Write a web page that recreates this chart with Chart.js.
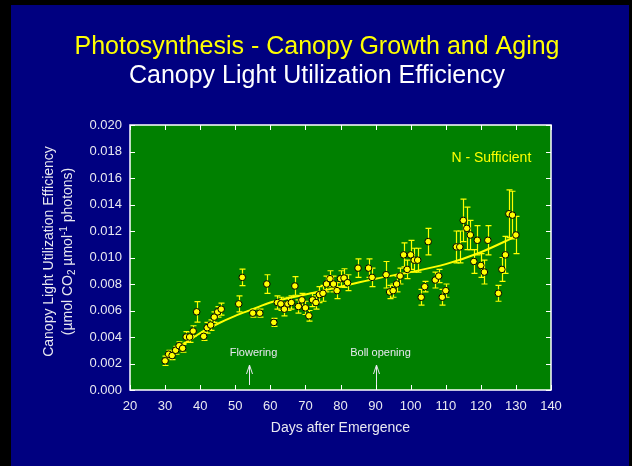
<!DOCTYPE html>
<html>
<head>
<meta charset="utf-8">
<script src="https://cdn.jsdelivr.net/npm/chart.js"></script>
<style>
  body { margin: 0; background: #000000; }
  canvas { display: block; }
</style>
</head>
<body>
<canvas id="myChart" width="632" height="466"></canvas>
<script>
// measured points (days after emergence) + error bars
const days = [30, 31, 32, 33, 34, 35, 36, 37, 38, 39, 41, 42, 43, 44, 45, 46, 51, 52, 55, 57,
  59, 61, 62, 63, 64, 65, 66, 67, 68, 69, 70, 71, 72, 73, 74, 75, 76, 77, 78, 79,
  80, 81, 82, 85, 88, 89, 93, 94, 95, 96, 97, 98, 99, 100, 101, 102, 103, 104, 105, 107,
  108, 109, 110, 113, 114, 115, 116, 117, 118, 119, 120, 121, 122, 125, 126, 127, 128, 129, 130];
const efficiency = [0.0022, 0.0027, 0.0026, 0.0030, 0.00334, 0.00315, 0.0040, 0.0040, 0.00445, 0.0059,
  0.00405, 0.0047, 0.0049, 0.0055, 0.0059, 0.0061, 0.0065, 0.0085, 0.0058, 0.0058,
  0.0080, 0.0051, 0.0066, 0.0065, 0.0061, 0.0065, 0.0066, 0.00785, 0.0063, 0.0068,
  0.0062, 0.0056, 0.0068, 0.0066, 0.0072, 0.0073, 0.0080, 0.0084, 0.0080, 0.0075,
  0.0084, 0.00845, 0.0081, 0.0092, 0.0092, 0.0085, 0.0087, 0.0074, 0.0075, 0.0080,
  0.0086, 0.0102, 0.0091, 0.0102, 0.0098, 0.0098, 0.0070, 0.0078, 0.0112, 0.0083,
  0.0086, 0.0070, 0.0075, 0.0108, 0.0108, 0.0128, 0.0122, 0.0117, 0.0097, 0.0113,
  0.0094, 0.0089, 0.0113, 0.0073, 0.0091, 0.0102, 0.0133, 0.0132, 0.0117];
const errors = [0.00035, 0.0003, 0.0003, 0.0003, 0.0003, 0.0003, 0.0004, 0.0004, 0.0004, 0.00077,
  0.0003, 0.0004, 0.0004, 0.0004, 0.0004, 0.00045, 0.0006, 0.00063, 0.0003, 0.0003,
  0.0007, 0.0003, 0.0005, 0.0005, 0.0005, 0.0005, 0.0005, 0.0007, 0.0005, 0.0005,
  0.0005, 0.0004, 0.0005, 0.0005, 0.0006, 0.0006, 0.0006, 0.0006, 0.0006, 0.0006,
  0.0006, 0.0007, 0.0006, 0.0007, 0.0007, 0.0007, 0.001, 0.0005, 0.0005, 0.0006,
  0.0006, 0.0009, 0.0007, 0.0011, 0.0009, 0.0009, 0.0006, 0.0004, 0.001, 0.0006,
  0.0005, 0.0006, 0.0005, 0.0012, 0.0012, 0.0016, 0.0016, 0.0011, 0.0009, 0.0011,
  0.0009, 0.0009, 0.0011, 0.0006, 0.0009, 0.0014, 0.0018, 0.0018, 0.0014];

// fitted curve
const fitDays = [30, 35, 40, 45, 50, 55, 60, 70, 80, 90, 100, 110, 120, 130];
const fitValues = [0.0025, 0.0034, 0.0043, 0.0050, 0.0056, 0.0061, 0.0066, 0.0072, 0.0078, 0.0084, 0.0089, 0.0095, 0.0104, 0.0116];

const markerDays = [54, 90];
const markerLabels = ["Flowering", "Boll opening"];

const FONT = "'Liberation Sans', Arial, sans-serif";
const TEXT = "#e8e8f0";

function pairs(xs, ys) {
  return xs.map(function (x, i) { return { x: x, y: ys[i] }; });
}

/********************* sfondo, titoli, bordi ***********************/
const decor = {
  id: "decor",
  beforeDraw: function (chart) {
    const ctx = chart.ctx;
    const a = chart.chartArea;
    ctx.save();
    ctx.fillStyle = "#000000";
    ctx.fillRect(0, 0, chart.width, chart.height);
    ctx.fillStyle = "#000080";
    ctx.fillRect(11, 5, 618, 461);
    ctx.fillStyle = "#008000";
    ctx.fillRect(a.left, a.top, a.right - a.left, a.bottom - a.top);

    ctx.textAlign = "center";
    ctx.textBaseline = "middle";
    ctx.font = "25px " + FONT;
    ctx.fillStyle = "#ffff00";
    ctx.fillText("Photosynthesis - Canopy Growth and Aging", 317, 47);
    ctx.fillStyle = "#ffffff";
    ctx.fillText("Canopy Light Utilization Efficiency", 317, 76);

    ctx.fillStyle = TEXT;
    ctx.font = "14px " + FONT;
    ctx.fillText("Days after Emergence", (a.left + a.right) / 2, 428);

    // y title, two lines rotated
    ctx.translate(0, (a.top + a.bottom) / 2 - 6);
    ctx.rotate(-Math.PI / 2);
    ctx.fillText("Canopy Light Utilization Efficiency", 0, 49);
    const parts = [["(\u00b5mol CO", 0], ["2", 1], [" \u00b5mol", 0], ["-1", -1], [" photons)", 0]];
    let total = 0;
    parts.forEach(function (p) {
      ctx.font = (p[1] ? "10px " : "14px ") + FONT;
      total += ctx.measureText(p[0]).width;
    });
    let x = -total / 2;
    ctx.textAlign = "left";
    parts.forEach(function (p) {
      ctx.font = (p[1] ? "10px " : "14px ") + FONT;
      ctx.fillText(p[0], x, 68 + p[1] * 4);
      x += ctx.measureText(p[0]).width;
    });
    ctx.restore();
  },
  beforeDatasetsDraw: function (chart) {
    const ctx = chart.ctx;
    const xs = chart.scales.x;
    const ys = chart.scales.y;
    ctx.save();
    ctx.strokeStyle = "#ffff00";
    ctx.lineWidth = 1.2;
    for (let i = 0; i < days.length; i++) {
      const px = Math.round(xs.getPixelForValue(days[i])) + 0.5;
      const top = ys.getPixelForValue(efficiency[i] + errors[i]);
      const bot = ys.getPixelForValue(efficiency[i] - errors[i]);
      ctx.beginPath();
      ctx.moveTo(px, top);
      ctx.lineTo(px, bot);
      ctx.moveTo(px - 3, top);
      ctx.lineTo(px + 3, top);
      ctx.moveTo(px - 3, bot);
      ctx.lineTo(px + 3, bot);
      ctx.stroke();
    }
    ctx.restore();
  },
  afterDatasetsDraw: function (chart) {
    const ctx = chart.ctx;
    const a = chart.chartArea;
    const xs = chart.scales.x;
    const ys = chart.scales.y;
    ctx.save();
    // frame + inner ticks
    ctx.strokeStyle = "#ffffff";
    ctx.lineWidth = 1.5;
    ctx.strokeRect(a.left, a.top, a.right - a.left, a.bottom - a.top);
    ctx.lineWidth = 1;
    ctx.beginPath();
    xs.ticks.forEach(function (t) {
      const px = Math.round(xs.getPixelForValue(t.value)) + 0.5;
      ctx.moveTo(px, a.bottom); ctx.lineTo(px, a.bottom - 5);
      ctx.moveTo(px, a.top); ctx.lineTo(px, a.top + 5);
    });
    ys.ticks.forEach(function (t) {
      const py = Math.round(ys.getPixelForValue(t.value)) + 0.5;
      ctx.moveTo(a.left, py); ctx.lineTo(a.left + 5, py);
      ctx.moveTo(a.right, py); ctx.lineTo(a.right - 5, py);
    });
    ctx.stroke();

    // Flowering / Boll opening arrows
    ctx.fillStyle = TEXT;
    ctx.strokeStyle = TEXT;
    ctx.font = "11px " + FONT;
    ctx.textAlign = "center";
    ctx.textBaseline = "middle";
    markerDays.forEach(function (d, i) {
      const px = Math.round(xs.getPixelForValue(d)) + 0.5;
      ctx.fillText(markerLabels[i], px + 4, a.bottom - 37);
      ctx.beginPath();
      ctx.moveTo(px, a.bottom - 5);
      ctx.lineTo(px, a.bottom - 25);
      ctx.moveTo(px - 3, a.bottom - 16);
      ctx.lineTo(px, a.bottom - 25);
      ctx.lineTo(px + 3, a.bottom - 16);
      ctx.stroke();
    });

    ctx.fillStyle = "#ffff00";
    ctx.font = "14px " + FONT;
    ctx.fillText("N - Sufficient", xs.getPixelForValue(123), ys.getPixelForValue(0.0175));
    ctx.restore();
  },
};

function grafico() {
  var ctx = document.getElementById("myChart");
  var myChart = new Chart(ctx, {
    type: "scatter",
    data: {
      datasets: [
        {
          data: pairs(days, efficiency),
          backgroundColor: "#ffff00",
          borderColor: "#000000",
          borderWidth: 1,
          pointRadius: 3.3,
          order: 0,
        },
        {
          type: "line",
          data: pairs(fitDays, fitValues),
          borderColor: "#ffff00",
          borderWidth: 2,
          pointRadius: 0,
          fill: false,
          cubicInterpolationMode: "monotone",
          order: 1,
        },
      ],
    },
    options: {
      responsive: false,
      animation: false,
      layout: { padding: { left: 0, top: 125, right: 81, bottom: 0 } },
      plugins: {
        legend: { display: false },
        tooltip: { enabled: false },
      },
      scales: {
        x: {
          type: "linear",
          min: 20,
          max: 140,
          grid: { display: false, drawTicks: false },
          border: { display: false },
          ticks: { stepSize: 10, padding: 9, color: TEXT, font: { family: FONT, size: 13 } },
          afterFit: function (scale) { scale.height = 76; },
        },
        y: {
          min: 0,
          max: 0.02,
          grid: { display: false, drawTicks: false },
          border: { display: false },
          ticks: {
            stepSize: 0.002,
            padding: 8,
            color: TEXT,
            font: { family: FONT, size: 13 },
            callback: function (v) { return v.toFixed(3); },
          },
          afterFit: function (scale) { scale.width = 130; },
        },
      },
    },
    plugins: [decor],
  });
}
grafico();
</script>
</body>
</html>
